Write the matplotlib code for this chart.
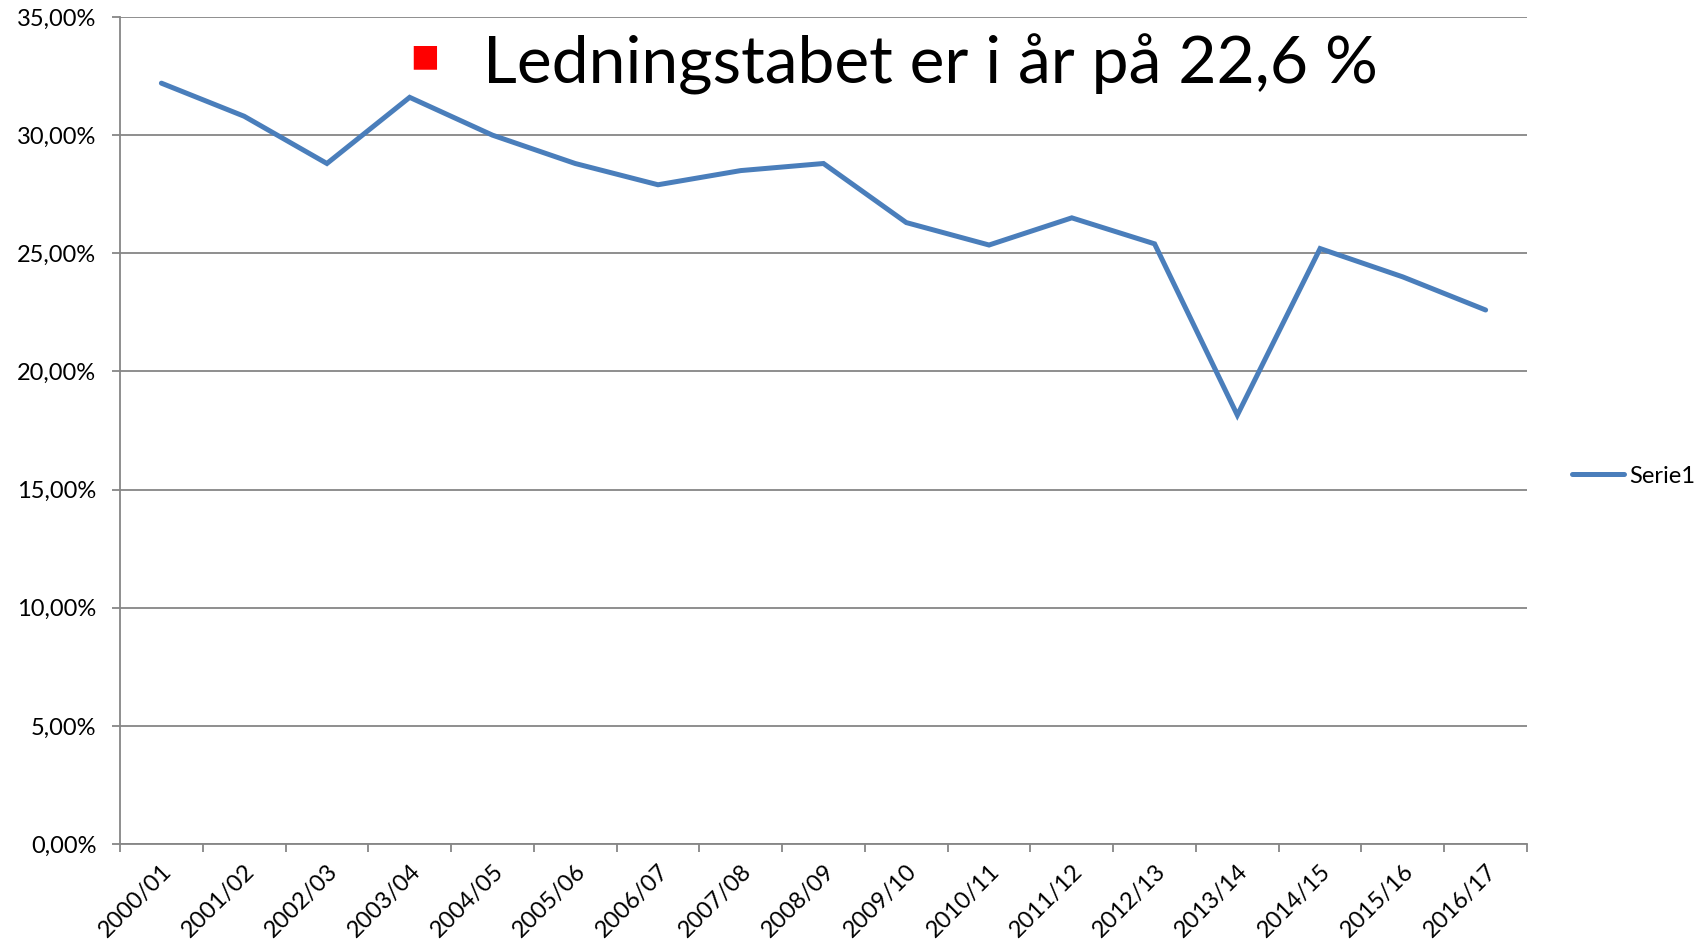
import matplotlib
matplotlib.use("Agg")
import matplotlib.pyplot as plt
from matplotlib.ticker import FixedLocator, FuncFormatter
import numpy as np

plt.rcParams['font.family'] = ['Lato', 'DejaVu Sans']

categories = ["2000/01", "2001/02", "2002/03", "2003/04", "2004/05", "2005/06",
              "2006/07", "2007/08", "2008/09", "2009/10", "2010/11", "2011/12",
              "2012/13", "2013/14", "2014/15", "2015/16", "2016/17"]
values = [32.2, 30.8, 28.8, 31.6, 30.0, 28.8, 27.9, 28.5, 28.8, 26.3,
          25.35, 26.5, 25.4, 18.15, 25.2, 24.0, 22.6]
series_name = "Serie1"
title_text = "Ledningstabet er i år på 22,6 %"
y_ticks = [0, 5, 10, 15, 20, 25, 30, 35]

W, H = 1697, 947
fig = plt.figure(figsize=(W / 100, H / 100), dpi=100)
ax = fig.add_axes([120 / W, 1 - 844 / H, (1527 - 120) / W, (844 - 17) / H])

grey = "#868686"
blue = "#4A7EBB"
x = np.arange(len(categories))
ax.plot(x, values, color=blue, lw=3.6, solid_capstyle='round',
        solid_joinstyle='miter', label=series_name, zorder=3)

ax.set_xlim(-0.5, len(categories) - 0.5)
ax.set_ylim(0, 35)
ax.set_yticks(y_ticks)
ax.yaxis.set_major_formatter(FuncFormatter(lambda v, p: f"{v:.2f}".replace(".", ",") + "%"))
ax.yaxis.grid(True, color=grey, lw=1.3)
ax.set_axisbelow(True)

ax.set_xticks(x)
ax.set_xticklabels(categories, rotation=45, ha='right', va='top', rotation_mode='anchor')
ax.xaxis.set_minor_locator(FixedLocator(np.arange(-0.5, len(categories), 1.0)))
ax.tick_params(axis='x', which='major', length=0, pad=12, labelsize=17)
ax.tick_params(axis='x', which='minor', length=6, width=1.3, color=grey)
ax.tick_params(axis='y', which='major', length=6, width=1.3, color=grey, labelsize=17, pad=11)

for s in ['top', 'right']:
    ax.spines[s].set_visible(False)
for s in ['left', 'bottom']:
    ax.spines[s].set_color(grey)
    ax.spines[s].set_linewidth(1.3)

# legend
leg = fig.legend(loc='center left', bbox_to_anchor=(1551 / W, 1 - 476 / H), frameon=False,
                 fontsize=17, handlelength=2.2, handletextpad=0.2)

# title-like annotation
fig.text(425 / W, 1 - 57 / H, "■", color="#FF0000", fontsize=22, ha='center', va='center',
         family=['DejaVu Sans'])
fig.text(483 / W, 1 - 64 / H, title_text, fontsize=47.5, ha='left', va='center', color='black')

fig.savefig("out.png", dpi=100, facecolor='white')
